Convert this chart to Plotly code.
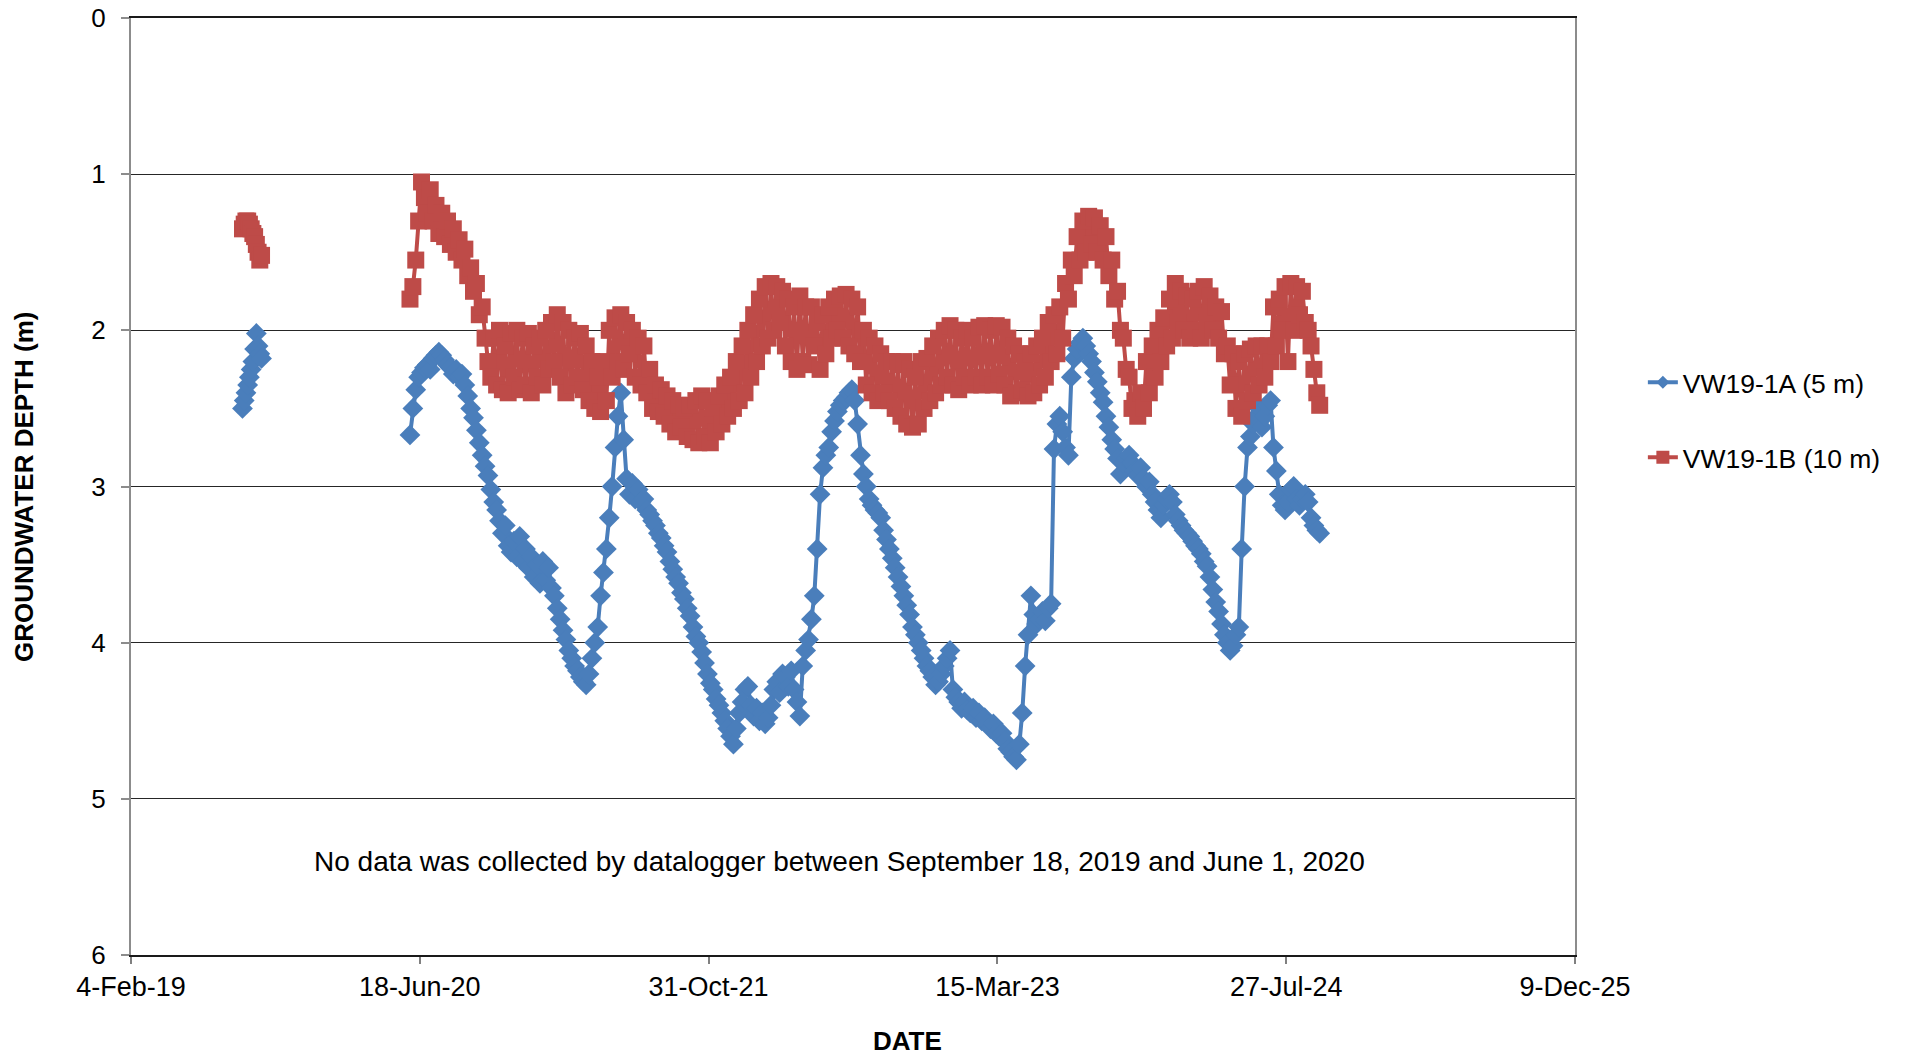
import pandas as pd
import plotly.graph_objects as go

# ---------------- DATA ----------------
SERIES_A_NAME = "VW19-1A (5 m)"
SERIES_B_NAME = "VW19-1B (10 m)"

# 2019 readings (every 3 days from 2019-08-16)
SEG1_START = "2019-08-16"
SEG1_STEP = "3D"
A_2019 = [2.50, 2.45, 2.40, 2.35, 2.30, 2.25, 2.20, 2.12, 2.02, 2.10, 2.15, 2.18]
B_2019 = [1.35, 1.32, 1.30, 1.30, 1.32, 1.35, 1.38, 1.40, 1.45, 1.50, 1.55, 1.52]

# 2020-2024 readings (every 5 days from 2020-06-01)
SEG2_START = "2020-06-01"
SEG2_STEP = "5D"
A_2020_24 = [
    2.67, 2.50, 2.38, 2.30, 2.27, 2.24, 2.22, 2.25, 2.18, 2.16,
    2.14, 2.16, 2.19, 2.22, 2.24, 2.28, 2.25, 2.30, 2.28, 2.35,
    2.42, 2.50, 2.56, 2.64, 2.72, 2.80, 2.87, 2.93, 3.02, 3.10,
    3.15, 3.22, 3.30, 3.25, 3.38, 3.42, 3.35, 3.45, 3.32, 3.48,
    3.40, 3.52, 3.45, 3.58, 3.50, 3.62, 3.48, 3.60, 3.52, 3.65,
    3.70, 3.78, 3.85, 3.92, 3.98, 4.05, 4.10, 4.15, 4.18, 4.22,
    4.25, 4.27, 4.20, 4.10, 4.00, 3.90, 3.70, 3.55, 3.40, 3.20,
    3.00, 2.75, 2.55, 2.40, 2.70, 2.95, 3.05, 2.98, 3.08, 3.02,
    3.10, 3.08, 3.15, 3.18, 3.22, 3.25, 3.30, 3.33, 3.38, 3.42,
    3.48, 3.53, 3.58, 3.62, 3.68, 3.72, 3.78, 3.83, 3.90, 3.96,
    4.00, 4.06, 4.13, 4.20, 4.26, 4.30, 4.36, 4.40, 4.45, 4.50,
    4.55, 4.60, 4.65, 4.55, 4.45, 4.38, 4.30, 4.28, 4.40, 4.47,
    4.42, 4.50, 4.45, 4.52, 4.48, 4.40, 4.30, 4.25, 4.32, 4.20,
    4.22, 4.28, 4.18, 4.30, 4.38, 4.47, 4.15, 4.05, 3.98, 3.85,
    3.70, 3.40, 3.05, 2.88, 2.80, 2.75, 2.65, 2.58, 2.52, 2.48,
    2.45, 2.43, 2.40, 2.38, 2.45, 2.60, 2.80, 2.92, 3.00, 3.08,
    3.12, 3.15, 3.17, 3.20, 3.28, 3.34, 3.40, 3.46, 3.52, 3.58,
    3.64, 3.70, 3.76, 3.82, 3.90, 3.95, 4.00, 4.05, 4.10, 4.15,
    4.18, 4.22, 4.27, 4.25, 4.20, 4.15, 4.10, 4.05, 4.30, 4.35,
    4.38, 4.42, 4.38, 4.43, 4.45, 4.42, 4.48, 4.45, 4.50, 4.48,
    4.52, 4.55, 4.52, 4.58, 4.60, 4.58, 4.63, 4.68, 4.70, 4.73,
    4.75, 4.65, 4.45, 4.15, 3.95, 3.70, 3.82, 3.88, 3.85, 3.80,
    3.86, 3.78, 3.75, 2.76, 2.60, 2.55, 2.65, 2.75, 2.80, 2.30,
    2.18, 2.12, 2.08, 2.05, 2.10, 2.15, 2.20, 2.27, 2.33, 2.40,
    2.46, 2.55, 2.62, 2.70, 2.76, 2.82, 2.92, 2.85, 2.82, 2.80,
    2.85, 2.90, 2.93, 2.88, 2.95, 3.00, 2.97, 3.05, 3.10, 3.15,
    3.20, 3.12, 3.08, 3.05, 3.10, 3.18, 3.22, 3.25, 3.28, 3.30,
    3.32, 3.35, 3.38, 3.40, 3.43, 3.48, 3.51, 3.58, 3.66, 3.74,
    3.80, 3.88, 3.95, 4.00, 4.05, 4.02, 3.95, 3.90, 3.40, 3.00,
    2.75, 2.68, 2.60, 2.55, 2.50, 2.62, 2.55, 2.48, 2.45, 2.75,
    2.90, 3.05, 3.12, 3.15, 3.10, 3.02, 3.00, 3.08, 3.12, 3.08,
    3.05, 3.10, 3.20, 3.25, 3.28, 3.30,
]
B_2020_24 = [
    1.80, 1.72, 1.55, 1.30, 1.05, 1.15, 1.25, 1.10, 1.30, 1.20,
    1.38, 1.25, 1.40, 1.30, 1.45, 1.35, 1.50, 1.42, 1.55, 1.48,
    1.65, 1.60, 1.75, 1.70, 1.90, 1.85, 2.05, 2.20, 2.30, 2.05,
    2.35, 2.00, 2.38, 2.10, 2.40, 2.02, 2.30, 2.00, 2.38, 2.05,
    2.35, 2.02, 2.40, 2.10, 2.30, 2.05, 2.35, 2.00, 2.25, 1.95,
    2.20, 1.90, 2.30, 1.95, 2.40, 2.00, 2.35, 2.05, 2.30, 2.02,
    2.38, 2.10, 2.45, 2.20, 2.50, 2.30, 2.52, 2.20, 2.45, 2.00,
    2.30, 1.92, 2.20, 1.90, 2.25, 1.95, 2.15, 2.00, 2.30, 2.05,
    2.35, 2.10, 2.40, 2.25, 2.50, 2.35, 2.52, 2.38, 2.55, 2.42,
    2.60, 2.45, 2.65, 2.48, 2.62, 2.50, 2.68, 2.48, 2.70, 2.45,
    2.72, 2.42, 2.68, 2.45, 2.72, 2.50, 2.65, 2.42, 2.60, 2.35,
    2.55, 2.30, 2.50, 2.20, 2.45, 2.10, 2.40, 2.00, 2.30, 1.90,
    2.20, 1.80, 2.10, 1.72, 2.05, 1.70, 2.00, 1.72, 1.95, 1.75,
    2.10, 1.80, 2.20, 1.85, 2.25, 1.78, 2.20, 1.85, 2.22, 1.85,
    2.10, 1.95, 2.25, 1.90, 2.15, 1.85, 2.05, 1.80, 2.00, 1.78,
    2.05, 1.77, 2.10, 1.80, 2.15, 1.85, 2.20, 2.00, 2.35, 2.05,
    2.40, 2.10, 2.45, 2.15, 2.40, 2.20, 2.45, 2.20, 2.50, 2.22,
    2.55, 2.20, 2.60, 2.25, 2.62, 2.30, 2.60, 2.20, 2.50, 2.18,
    2.45, 2.10, 2.40, 2.05, 2.35, 2.00, 2.30, 1.97, 2.35, 2.00,
    2.38, 2.05, 2.30, 2.00, 2.35, 2.05, 2.30, 1.98, 2.35, 1.97,
    2.30, 2.00, 2.35, 1.97, 2.28, 1.98, 2.35, 2.05, 2.42, 2.10,
    2.40, 2.15, 2.38, 2.20, 2.42, 2.15, 2.40, 2.10, 2.35, 2.05,
    2.30, 1.95, 2.20, 1.90, 2.15, 1.85, 2.05, 1.70, 1.80, 1.55,
    1.65, 1.40, 1.55, 1.30, 1.50, 1.27, 1.45, 1.28, 1.50, 1.33,
    1.55, 1.40, 1.65, 1.55, 1.80, 1.75, 2.00, 2.05, 2.25, 2.30,
    2.50, 2.45, 2.55, 2.40, 2.50, 2.20, 2.40, 2.10, 2.30, 2.00,
    2.20, 1.92, 2.10, 1.80, 2.05, 1.70, 1.95, 1.75, 2.00, 1.78,
    2.05, 1.80, 2.00, 1.75, 2.05, 1.72, 1.95, 1.78, 2.00, 1.85,
    2.05, 1.88, 2.15, 2.10, 2.35, 2.15, 2.50, 2.20, 2.55, 2.15,
    2.45, 2.12, 2.40, 2.10, 2.35, 2.10, 2.30, 2.10, 2.20, 1.85,
    2.10, 1.80, 2.00, 1.72, 2.20, 1.70, 2.00, 1.72, 1.90, 1.75,
    1.95, 2.00, 2.10, 2.25, 2.40, 2.48,
]

X_TICK_DATES = ["2019-02-04", "2020-06-18", "2021-10-31", "2023-03-15", "2024-07-27", "2025-12-09"]
X_TICK_LABELS = ["4-Feb-19", "18-Jun-20", "31-Oct-21", "15-Mar-23", "27-Jul-24", "9-Dec-25"]
Y_TICKS = [0, 1, 2, 3, 4, 5, 6]
NOTE = "No data was collected by datalogger between September 18, 2019 and June 1, 2020"

# ---------------- BUILD ----------------
d1 = list(pd.date_range(SEG1_START, periods=len(A_2019), freq=SEG1_STEP))
d2 = list(pd.date_range(SEG2_START, periods=len(A_2020_24), freq=SEG2_STEP))
x_all = d1 + [None] + d2
ya = A_2019 + [None] + A_2020_24
yb = B_2019 + [None] + B_2020_24

BLUE = "#4A7EBB"
RED = "#BE4B48"
FONT = "Arial, Liberation Sans, sans-serif"

fig = go.Figure()
fig.add_trace(go.Scatter(
    x=x_all, y=ya, name=SERIES_A_NAME, mode="lines+markers",
    line=dict(color=BLUE, width=4),
    marker=dict(symbol="diamond", size=16, color=BLUE),
    connectgaps=False, showlegend=False,
))
fig.add_trace(go.Scatter(
    x=x_all, y=yb, name=SERIES_B_NAME, mode="lines+markers",
    line=dict(color=RED, width=4),
    marker=dict(symbol="square", size=17, color=RED),
    connectgaps=False, showlegend=False,
))
# legend entries (smaller symbols, as in the original legend)
fig.add_trace(go.Scatter(
    x=[None], y=[None], name=SERIES_A_NAME, mode="lines+markers",
    line=dict(color=BLUE, width=4),
    marker=dict(symbol="diamond", size=10, color=BLUE),
    legend="legend",
))
fig.add_trace(go.Scatter(
    x=[None], y=[None], name=SERIES_B_NAME, mode="lines+markers",
    line=dict(color=RED, width=4),
    marker=dict(symbol="square", size=13, color=RED),
    legend="legend2",
))

W, H = 1908, 1055
ML, MR, MT, MB = 131, 333, 18, 100

fig.update_layout(
    width=W, height=H, autosize=False,
    margin=dict(l=ML, r=MR, t=MT, b=MB, pad=0),
    paper_bgcolor="white", plot_bgcolor="white",
    font=dict(family=FONT, size=26, color="black"),
    showlegend=True,
    legend=dict(x=1.047, y=0.611, xanchor="left", yanchor="middle",
                bgcolor="rgba(0,0,0,0)", font=dict(size=26.5)),
    legend2=dict(x=1.047, y=0.531, xanchor="left", yanchor="middle",
                 bgcolor="rgba(0,0,0,0)", font=dict(size=26.5)),
    xaxis=dict(
        type="date", range=["2019-02-04", "2025-12-09"],
        tickmode="array", tickvals=X_TICK_DATES, ticktext=X_TICK_LABELS,
        ticks="outside", ticklen=7, tickcolor="#808080", tickwidth=1.5,
        showgrid=False, showline=True, mirror=True,
        linecolor="#1a1a1a", linewidth=1.5, zeroline=False,
        tickfont=dict(size=27), automargin=False,
    ),
    yaxis=dict(
        range=[6, 0], tickmode="array", tickvals=Y_TICKS,
        ticks="outside", ticklen=8, tickcolor="#8c8c8c", tickwidth=2,
        showgrid=True, gridcolor="#262626", gridwidth=1.2,
        showline=True, mirror=True, linecolor="#8c8c8c", linewidth=2,
        zeroline=False, tickfont=dict(size=26), ticklabelstandoff=10,
        automargin=False,
    ),
    annotations=[
        dict(text="<b>GROUNDWATER DEPTH (m)</b>", xref="paper", yref="paper",
             x=-0.0744, y=0.5, xanchor="center", yanchor="middle",
             textangle=-90, showarrow=False, font=dict(size=26)),
        dict(text="<b>DATE</b>", xref="paper", yref="paper",
             x=0.538, y=-0.092, xanchor="center", yanchor="middle",
             showarrow=False, font=dict(size=26)),
        dict(text=NOTE, xref="paper", yref="paper",
             x=0.4905, y=0.0993, xanchor="center", yanchor="middle",
             showarrow=False, font=dict(size=28)),
    ],
)

fig.write_html(
    "out.html",
    config={"displayModeBar": False},
    post_script="document.body.style.margin='0px';document.body.style.overflow='hidden';",
)
